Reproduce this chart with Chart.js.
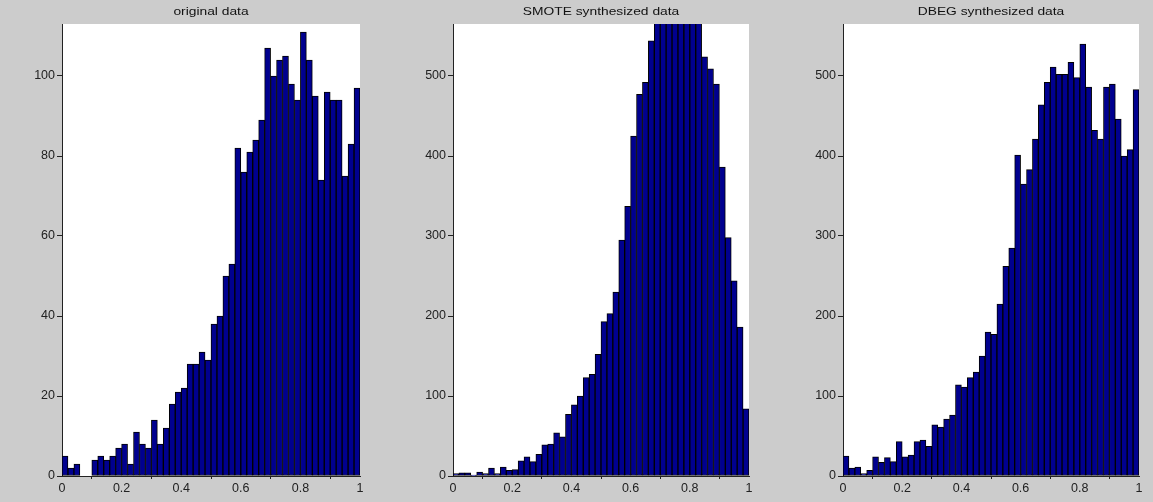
<!DOCTYPE html>
<html>
<head>
<meta charset="utf-8">
<script src="https://cdn.jsdelivr.net/npm/chart.js@4.4.1/dist/chart.umd.min.js"></script>
<style>
	html, body { margin: 0; padding: 0; background: #cccccc; }
	body { width: 1153px; height: 502px; position: relative; overflow: hidden; }
	canvas { position: absolute; top: 0; }
</style>
</head>
<body>
<canvas id="c1" width="380" height="502" style="left:0px"></canvas>
<canvas id="c2" width="390" height="502" style="left:380px"></canvas>
<canvas id="c3" width="383" height="502" style="left:770px"></canvas>
<script>
// histogram counts, 50 bins over [0, 1]
const binCount = 50;
const binCenters = Array.from({length: binCount}, (_, i) => (i + 0.5) / binCount);

const titles = ["original data", "SMOTE synthesized data", "DBEG synthesized data"];

const originalCounts = [
	5, 2, 3, 0, 0, 4, 5, 4, 5, 7,
	8, 3, 11, 8, 7, 14, 8, 12, 18, 21,
	22, 28, 28, 31, 29, 38, 40, 50, 53, 82,
	76, 81, 84, 89, 107, 100, 104, 105, 98, 94,
	111, 104, 95, 74, 96, 94, 94, 75, 83, 97
];
const smoteCounts = [
	3, 4, 4, 1, 5, 3, 10, 3, 11, 7,
	8, 19, 24, 18, 27, 39, 40, 54, 49, 77,
	89, 100, 123, 127, 152, 193, 203, 230, 295, 337,
	425, 477, 492, 544, 575, 600, 620, 630, 625, 610,
	590, 570, 524, 509, 490, 386, 298, 244, 186, 84
];
const dbegCounts = [
	25, 10, 11, 3, 7, 24, 17, 23, 18, 43,
	24, 26, 43, 45, 37, 64, 61, 71, 76, 114,
	111, 123, 130, 150, 180, 177, 215, 262, 285, 401,
	365, 383, 421, 464, 492, 511, 502, 502, 517, 498,
	540, 486, 432, 421, 486, 490, 446, 400, 408, 483
];

const yMaxes = [113, 565, 565];
const ySteps = [20, 100, 100];
const xTickStep = 0.2;

const font = {family: "'Liberation Sans', Arial, sans-serif", size: 12.5};

const plotBg = {
	id: "plotBg",
	beforeDraw(chart) {
		const {ctx, chartArea: a} = chart;
		ctx.save();
		ctx.fillStyle = "#ffffff";
		ctx.fillRect(a.left, a.top, a.right - a.left, a.bottom - a.top);
		ctx.restore();
	},
	afterDraw(chart, args, opts) {
		// title, slightly stretched like the source picture
		const {ctx, chartArea: a} = chart;
		ctx.save();
		ctx.fillStyle = "#111";
		ctx.font = "11.5px 'Liberation Sans', Arial, sans-serif";
		ctx.textAlign = "center";
		ctx.textBaseline = "middle";
		ctx.translate((a.left + a.right) / 2, 12);
		ctx.scale(1.2, 1);
		ctx.fillText(opts.text, 0, 0);
		ctx.restore();
	}
};

const makePanel = (id, canvasLeft, canvasWidth, plotLeft, plotRight, title, counts, yMax, yStep) => {
	const points = binCenters.map((x, i) => ({x: x, y: counts[i]}));
	return new Chart(document.getElementById(id), {
		type: "bar",
		data: {
			datasets: [{
				data: points,
				backgroundColor: "rgb(0,0,143)",
				borderColor: "#000000",
				borderWidth: 1,
				borderSkipped: false,
				barPercentage: 1,
				categoryPercentage: 1,
				clip: 0,
			}],
		},
		options: {
			responsive: false,
			animation: false,
			layout: {
				padding: {top: 24, left: 0, bottom: 0, right: canvasWidth - (plotRight - canvasLeft)}
			},
			scales: {
				x: {
					type: "linear",
					offset: false,
					min: 0,
					max: 1,
					ticks: {
						stepSize: xTickStep, font: font, color: "#222", padding: 2, maxRotation: 0,
						callback: (v) => String(Number(v.toFixed(1))),
					},
					grid: {drawOnChartArea: false, drawTicks: true, tickLength: 3, color: "#222"},
					border: {display: true, color: "#222", width: 1},
					afterFit: (s) => { s.height = 26; },
				},
				y: {
					min: 0,
					max: yMax,
					ticks: {stepSize: yStep, includeBounds: false, font: font, color: "#222", padding: 2},
					grid: {drawOnChartArea: false, drawTicks: true, tickLength: 5, color: "#222"},
					border: {display: true, color: "#222", width: 1},
					afterFit: (s) => { s.width = plotLeft - canvasLeft; },
				},
			},
			plugins: {
				legend: {display: false},
				tooltip: {enabled: false},
				title: {display: false},
				plotBg: {text: title},
			},
		},
		plugins: [plotBg],
	});
};

makePanel("c1", 0, 380, 62, 360, titles[0], originalCounts, yMaxes[0], ySteps[0]);
makePanel("c2", 380, 390, 453, 749, titles[1], smoteCounts, yMaxes[1], ySteps[1]);
makePanel("c3", 770, 383, 843, 1139, titles[2], dbegCounts, yMaxes[2], ySteps[2]);
</script>
</body>
</html>
